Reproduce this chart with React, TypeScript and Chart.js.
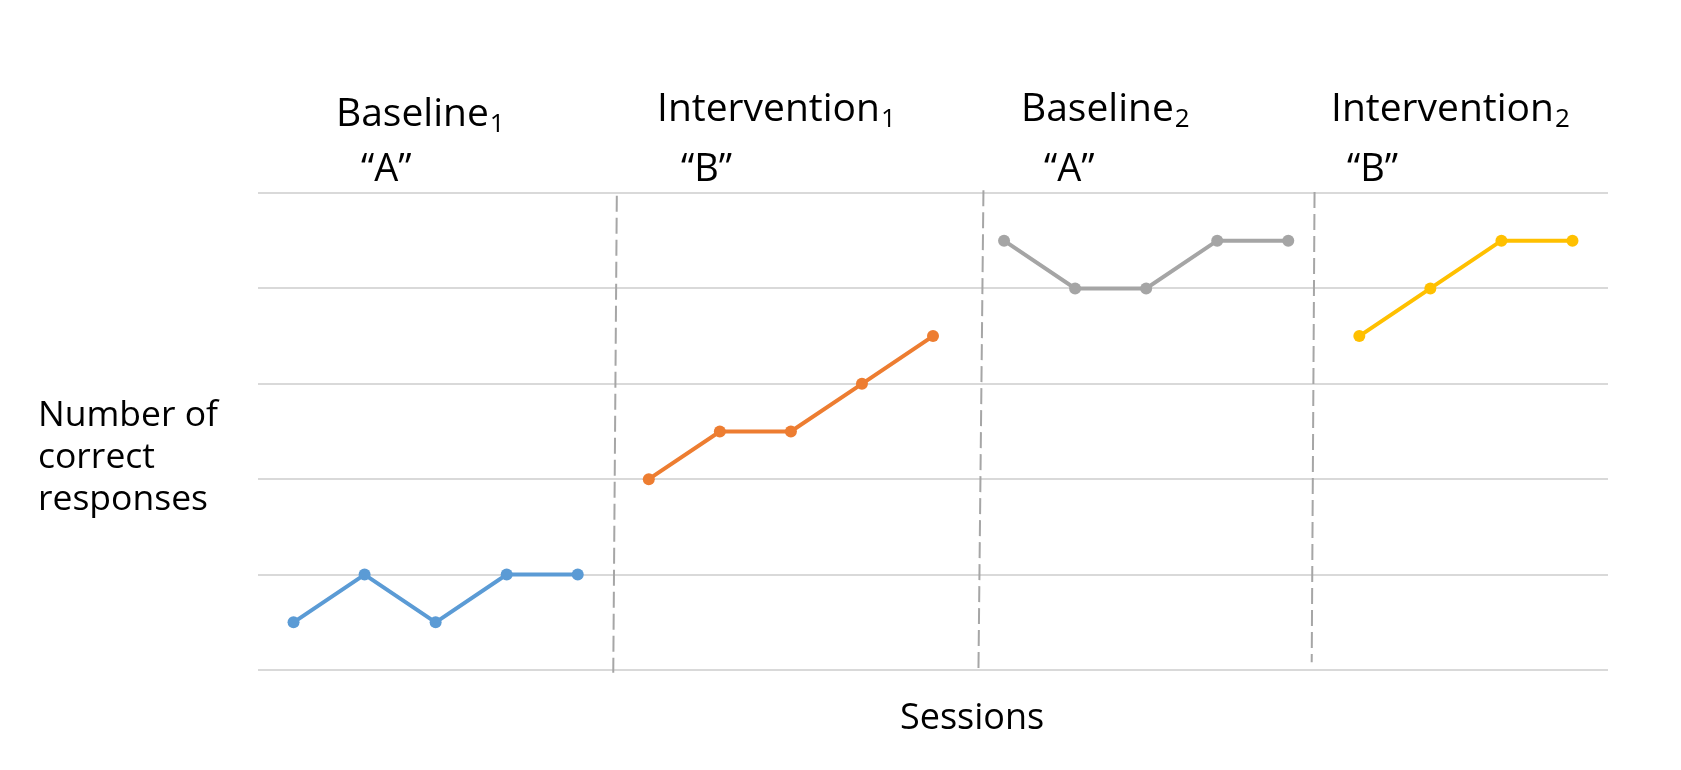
import React, { useEffect, useRef } from "react";
import { Chart, registerables } from "chart.js";

Chart.register(...registerables);

// Sessions (category axis)
const sessions = ["1", "2", "3", "4", "5", "6", "7", "8", "9", "10", "11", "12", "13", "14", "15", "16", "17", "18", "19"];

// Values per phase (number of correct responses)
const baseline1Values = [0.5, 1, 0.5, 1, 1];
const intervention1Values = [2, 2.5, 2.5, 3, 3.5];
const baseline2Values = [4.5, 4, 4, 4.5, 4.5];
const intervention2Values = [3.5, 4, 4.5, 4.5];

// Y axis range / gridlines
const yTicks = [0, 1, 2, 3, 4, 5];

// Phase labels
const phaseNames = ["Baseline", "Intervention", "Baseline", "Intervention"];
const phaseSubscripts = ["1", "1", "2", "2"];
const phaseLetters = ["\u201CA\u201D", "\u201CB\u201D", "\u201CA\u201D", "\u201CB\u201D"];

// Phase change lines (in session-index units / response units), hand-drawn so slightly slanted
const phaseLineTopX = [4.55, 9.71, 14.37];
const phaseLineBottomX = [4.5, 9.64, 14.33];
const phaseLineTopY = [4.97, 5.03, 5.01];
const phaseLineBottomY = [-0.03, 0.02, 0.08];

const yAxisLabelLines = ["Number of", "correct", "responses"];
const xAxisLabel = "Sessions";

function pad(values: number[], start: number): (number | null)[] {
  const out: (number | null)[] = sessions.map(() => null);
  values.forEach((v, i) => {
    out[start + i] = v;
  });
  return out;
}

const FONT = "'Open Sans', 'Noto Sans', sans-serif";

const annotationPlugin = {
  id: "phaseAnnotations",
  afterDatasetsDraw(chart: any) {
    const { ctx, scales } = chart;
    const xs = scales.x;
    const ys = scales.y;
    ctx.save();
    // phase change lines
    ctx.strokeStyle = "#a6a6a6";
    ctx.lineWidth = 2;
    ctx.setLineDash([16, 6]);
    for (let i = 0; i < phaseLineTopX.length; i++) {
      ctx.beginPath();
      ctx.moveTo(xs.getPixelForValue(phaseLineTopX[i]), ys.getPixelForValue(phaseLineTopY[i]));
      ctx.lineTo(xs.getPixelForValue(phaseLineBottomX[i]), ys.getPixelForValue(phaseLineBottomY[i]));
      ctx.stroke();
    }
    ctx.setLineDash([]);

    // phase titles
    const titleLeft = [336, 657, 1021, 1331];
    const titleBase = [126, 121, 121, 121];
    const letterLeft = [361, 681, 1044, 1347];
    const letterBase = [181, 181, 181, 181];
    ctx.fillStyle = "#000000";
    ctx.textBaseline = "alphabetic";
    ctx.textAlign = "left";
    for (let i = 0; i < phaseNames.length; i++) {
      ctx.font = `39px ${FONT}`;
      ctx.fillText(phaseNames[i], titleLeft[i], titleBase[i]);
      const w = ctx.measureText(phaseNames[i]).width;
      ctx.font = `26px ${FONT}`;
      ctx.fillText(phaseSubscripts[i], titleLeft[i] + w + 1, titleBase[i] + 6);
      ctx.font = `38px ${FONT}`;
      ctx.fillText(phaseLetters[i], letterLeft[i], letterBase[i]);
    }

    // y axis label
    ctx.font = `35.5px ${FONT}`;
    yAxisLabelLines.forEach((line, i) => {
      ctx.fillText(line, 38, 426 + i * 42);
    });

    // x axis label
    ctx.font = `36px ${FONT}`;
    ctx.fillText(xAxisLabel, 900, 729);
    ctx.restore();
  },
};

export default function App() {
  const canvasRef = useRef<HTMLCanvasElement | null>(null);

  useEffect(() => {
    document.body.style.margin = "0";
    const canvas = canvasRef.current;
    if (!canvas) return;
    const chart = new Chart(canvas, {
      type: "line",
      data: {
        labels: sessions,
        datasets: [
          { label: "Baseline 1", data: pad(baseline1Values, 0), borderColor: "#5b9bd5", backgroundColor: "#5b9bd5" },
          { label: "Intervention 1", data: pad(intervention1Values, 5), borderColor: "#ed7d31", backgroundColor: "#ed7d31" },
          { label: "Baseline 2", data: pad(baseline2Values, 10), borderColor: "#a5a5a5", backgroundColor: "#a5a5a5" },
          { label: "Intervention 2", data: pad(intervention2Values, 15), borderColor: "#ffc000", backgroundColor: "#ffc000" },
        ].map((d) => ({
          ...d,
          borderWidth: 4,
          pointRadius: 6,
          pointBorderWidth: 0,
          pointBackgroundColor: d.borderColor,
          spanGaps: false,
          tension: 0,
          clip: false as any,
        })),
      },
      options: {
        responsive: false,
        animation: false,
        devicePixelRatio: 1,
        layout: { padding: { left: 258, right: 73, top: 193, bottom: 100 } },
        plugins: { legend: { display: false }, tooltip: { enabled: false }, title: { display: false } },
        scales: {
          x: {
            type: "category",
            offset: true,
            grid: { display: false, drawTicks: false },
            border: { display: false },
            ticks: { display: false },
          },
          y: {
            min: yTicks[0],
            max: yTicks[yTicks.length - 1],
            afterBuildTicks: (scale: any) => {
              scale.ticks = yTicks.map((v) => ({ value: v }));
            },
            grid: { color: "#d9d9d9", lineWidth: 2, drawTicks: false },
            border: { display: false },
            ticks: { display: false },
          },
        },
      },
      plugins: [annotationPlugin],
    });
    return () => chart.destroy();
  }, []);

  return (
    <div style={{ width: 1681, height: 770 }}>
      <canvas ref={canvasRef} width={1681} height={770} style={{ display: "block" }} />
    </div>
  );
}
